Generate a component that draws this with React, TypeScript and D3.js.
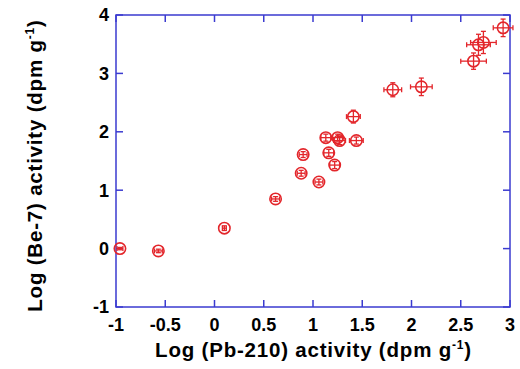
import React from 'react';
import * as d3 from 'd3';

// Log Pb-210 vs Log Be-7 activities, with errors
const logPb = [-0.96, -0.57, 0.1, 0.62, 0.88, 0.9, 1.06, 1.13, 1.16, 1.22, 1.25, 1.27, 1.44, 1.41, 1.81, 2.1, 2.63, 2.68, 2.73, 2.93];
const logBe = [0.0, -0.04, 0.35, 0.85, 1.29, 1.61, 1.14, 1.9, 1.64, 1.43, 1.9, 1.85, 1.85, 2.26, 2.72, 2.77, 3.21, 3.49, 3.53, 3.78];
const errPb = [0.03, 0.04, 0.02, 0.04, 0.04, 0.04, 0.04, 0.05, 0.05, 0.05, 0.05, 0.06, 0.07, 0.07, 0.09, 0.11, 0.13, 0.12, 0.13, 0.1];
const errBe = [0.02, 0.03, 0.04, 0.04, 0.05, 0.05, 0.05, 0.06, 0.06, 0.06, 0.06, 0.07, 0.06, 0.11, 0.12, 0.15, 0.14, 0.18, 0.19, 0.15];

const xTicks = [-1, -0.5, 0, 0.5, 1, 1.5, 2, 2.5, 3];
const yTicks = [-1, 0, 1, 2, 3, 4];

const App: React.FC = () => {
  const width = 520;
  const height = 369;
  const margin = { top: 15, right: 10, bottom: 62, left: 116 };
  const x = d3.scaleLinear().domain([-1, 3]).range([margin.left, width - margin.right]);
  const y = d3.scaleLinear().domain([-1, 4]).range([height - margin.bottom, margin.top]);
  const axisColor = '#3b3bd0';
  const red = '#e3262b';
  const tick = 7;
  const cap = 2.5;
  const font = 'Liberation Sans, Arial, sans-serif';

  const pts = logPb.map((v, i) => ({ x: v, y: logBe[i], ex: errPb[i], ey: errBe[i] }));

  return (
    <svg width={width} height={height} style={{ position: 'absolute', left: 0, top: 0 }} fontFamily={font}>
      <rect x={x(-1)} y={y(4)} width={x(3) - x(-1)} height={y(-1) - y(4)} fill="none" stroke={axisColor} strokeWidth={1.5} />
      {xTicks.map((t) => (
        <g key={'x' + t}>
          <line x1={x(t)} x2={x(t)} y1={y(-1)} y2={y(-1) - tick} stroke={axisColor} strokeWidth={1.5} />
          <line x1={x(t)} x2={x(t)} y1={y(4)} y2={y(4) + tick} stroke={axisColor} strokeWidth={1.5} />
          <text x={x(t)} y={y(-1) + 23.5} textAnchor="middle" fontSize={18} fontWeight="bold">
            {t}
          </text>
        </g>
      ))}
      {yTicks.map((t) => (
        <g key={'y' + t}>
          <line x1={x(-1)} x2={x(-1) + tick} y1={y(t)} y2={y(t)} stroke={axisColor} strokeWidth={1.5} />
          <line x1={x(3)} x2={x(3) - tick} y1={y(t)} y2={y(t)} stroke={axisColor} strokeWidth={1.5} />
          <text x={x(-1) - 7} y={y(t)} dy="0.35em" textAnchor="end" fontSize={18} fontWeight="bold">
            {t}
          </text>
        </g>
      ))}
      {pts.map((p, i) => {
        const cx = x(p.x);
        const cy = y(p.y);
        const x0 = x(p.x - p.ex);
        const x1 = x(p.x + p.ex);
        const y0 = y(p.y - p.ey);
        const y1 = y(p.y + p.ey);
        return (
          <g key={i} stroke={red} strokeWidth={1.3} fill="none">
            <circle cx={cx} cy={cy} r={5.7} strokeWidth={1.6} />
            <line x1={x0} x2={x1} y1={cy} y2={cy} />
            <line x1={cx} x2={cx} y1={y0} y2={y1} />
            <line x1={x0} x2={x0} y1={cy - cap} y2={cy + cap} />
            <line x1={x1} x2={x1} y1={cy - cap} y2={cy + cap} />
            <line x1={cx - cap} x2={cx + cap} y1={y0} y2={y0} />
            <line x1={cx - cap} x2={cx + cap} y1={y1} y2={y1} />
          </g>
        );
      })}
      <text x={313.5} y={356.5} textAnchor="middle" fontSize={20.5} fontWeight="bold" letterSpacing={0.8}>
        Log (Pb-210) activity (dpm g
        <tspan dy={-8} fontSize={12}>-1</tspan>
        <tspan dy={8}>)</tspan>
      </text>
      <text transform={`translate(41.5,165.5) rotate(-90)`} textAnchor="middle" fontSize={20.5} fontWeight="bold" letterSpacing={0.8}>
        Log (Be-7) activity (dpm g
        <tspan dy={-8} fontSize={12}>-1</tspan>
        <tspan dy={8}>)</tspan>
      </text>
    </svg>
  );
};

export default App;
